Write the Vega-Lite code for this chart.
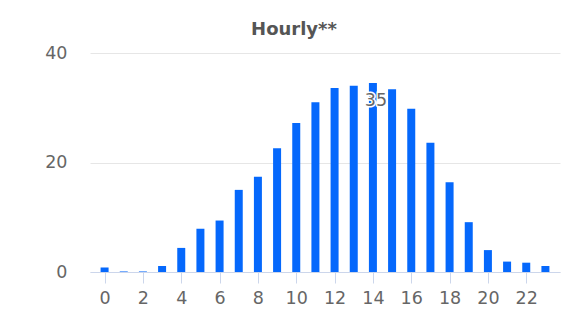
{
  "$schema": "https://vega.github.io/schema/vega-lite/v6.json",
  "autosize": "none",
  "width": 470,
  "height": 219,
  "padding": {"left": 90, "top": 53, "right": 5, "bottom": 46},
  "background": "white",
  "title": {
    "text": "Hourly**",
    "font": "DejaVu Sans",
    "fontSize": 18,
    "fontWeight": "bold",
    "color": "#555555",
    "anchor": "middle",
    "dx": -31,
    "offset": 5
  },
  "config": {
    "view": {"stroke": null},
    "axis": {"labelFont": "DejaVu Sans", "labelFontSize": 17.5, "labelColor": "#666666", "title": null}
  },
  "data": {
    "values": [
      {"hour": 0, "value": 0.8},
      {"hour": 1, "value": 0.1},
      {"hour": 2, "value": 0.1},
      {"hour": 3, "value": 1.1},
      {"hour": 4, "value": 4.4},
      {"hour": 5, "value": 7.9},
      {"hour": 6, "value": 9.4},
      {"hour": 7, "value": 15.0},
      {"hour": 8, "value": 17.4},
      {"hour": 9, "value": 22.6},
      {"hour": 10, "value": 27.2},
      {"hour": 11, "value": 31.0},
      {"hour": 12, "value": 33.6},
      {"hour": 13, "value": 34.0},
      {"hour": 14, "value": 34.5},
      {"hour": 15, "value": 33.4},
      {"hour": 16, "value": 29.8},
      {"hour": 17, "value": 23.6},
      {"hour": 18, "value": 16.4},
      {"hour": 19, "value": 9.1},
      {"hour": 20, "value": 4.0},
      {"hour": 21, "value": 1.9},
      {"hour": 22, "value": 1.7},
      {"hour": 23, "value": 1.1}
    ]
  },
  "encoding": {
    "x": {
      "field": "hour",
      "type": "quantitative",
      "scale": {"domain": [-0.5, 23.5], "nice": false, "zero": false},
      "axis": {
        "values": [0, 2, 4, 6, 8, 10, 12, 14, 16, 18, 20, 22],
        "grid": false,
        "domainColor": "#ccd6eb",
        "tickColor": "#ccd6eb",
        "tickSize": 11,
        "labelPadding": 6,
        "labelFlush": false
      }
    },
    "y": {
      "field": "value",
      "type": "quantitative",
      "scale": {"domain": [0, 40], "nice": false},
      "axis": {
        "values": [0, 20, 40],
        "domain": false,
        "ticks": false,
        "grid": true,
        "gridColor": "#e6e6e6",
        "labelPadding": 23
      }
    }
  },
  "layer": [
    {"mark": {"type": "bar", "size": 8, "color": "#0568fc"}},
    {
      "transform": [{"filter": "datum.hour == 14"}],
      "mark": {"type": "text", "font": "DejaVu Sans", "fontSize": 17.5, "baseline": "middle", "dy": 18, "dx": 3, "stroke": "white", "strokeWidth": 3, "fill": "white"},
      "encoding": {"text": {"field": "value", "format": ".0f"}}
    },
    {
      "transform": [{"filter": "datum.hour == 14"}],
      "mark": {"type": "text", "font": "DejaVu Sans", "fontSize": 17.5, "baseline": "middle", "dy": 18, "dx": 3, "color": "#666666"},
      "encoding": {"text": {"field": "value", "format": ".0f"}}
    }
  ]
}
